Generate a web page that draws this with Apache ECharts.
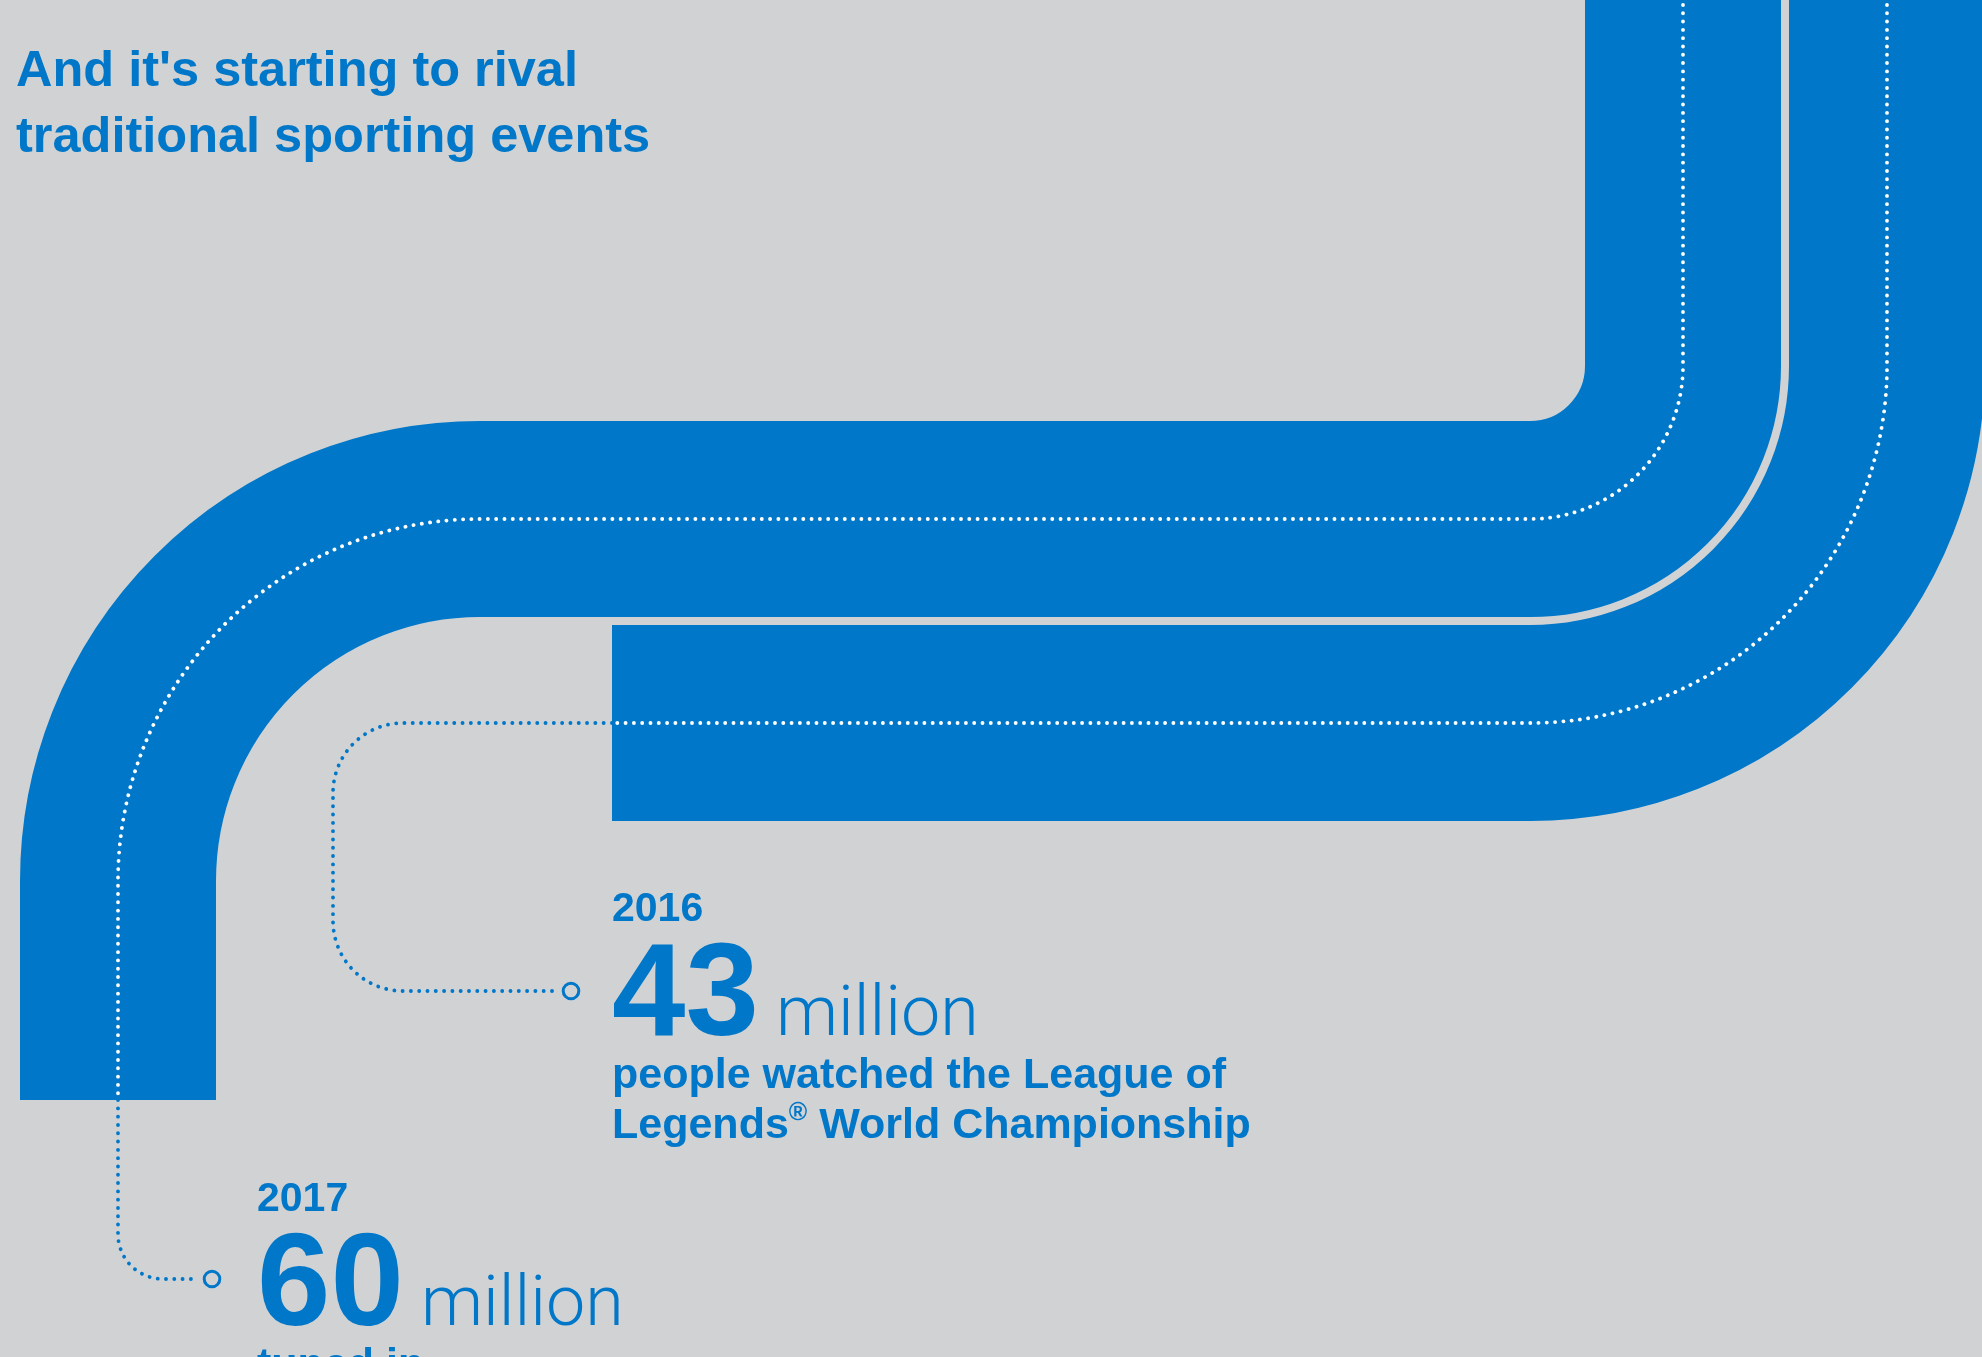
<!DOCTYPE html>
<html>
<head>
<meta charset="utf-8">
<style>
  html, body { margin: 0; padding: 0; background: #D1D2D4; }
  #chart { width: 1982px; height: 1357px; }
</style>
<script src="https://cdn.jsdelivr.net/npm/echarts@6/dist/echarts.min.js"></script>
</head>
<body>
<div id="chart"></div>
<script>
// ---------------- data ----------------
const headline = ["And it's starting to rival", 'traditional sporting events'];
const years = ['2016', '2017'];
const viewersMillions = [43, 60];
const unitLabel = 'million';
const captions = [
  'people watched the League of\nLegends{sup|®} World Championship',
  'tuned in'
];

// ---------------- layout & style (pixel space of the hidden axes) ----------------
const BLUE = '#0077C8';
const BG = '#D1D2D4';
const BAND_W = 196;
const FONT = '"Liberation Sans", Arial, sans-serif';
const LIGHT_FONT = 'Roboto, "Liberation Sans", sans-serif';
const K_SANS = 0.293;   // baseline offset from canvas 'middle' (per px of font size)
const K_LIGHT = 0.27;

const layout = [
  { // 2016 band (outer, right)
    band: [['M', 1887, -20], ['L', 1887, 366], ['A', 357, 1, 1530, 723], ['L', 612, 723]],
    leader: [['M', 612, 723], ['L', 403, 723], ['A', 70, 0, 333, 793], ['L', 333, 921], ['A', 70, 0, 403, 991], ['L', 553, 991]],
    marker: [571, 991],
    anchor: [612, 1037]
  },
  { // 2017 band (S-shaped)
    band: [['M', 1683, -20], ['L', 1683, 366], ['A', 153, 1, 1530, 519], ['L', 480, 519], ['A', 362, 0, 118, 881], ['L', 118, 1100]],
    leader: [['M', 118, 1100], ['L', 118, 1234], ['A', 45, 0, 163, 1279], ['L', 198, 1279]],
    marker: [212, 1279],
    anchor: [257, 1327]
  }
];

function pathStr(api, segs) {
  return segs.map(function (s) {
    if (s[0] === 'A') {
      const p = api.coord([s[3], s[4]]);
      const r = api.size([s[1], s[1]]);
      return 'A ' + r[0] + ' ' + r[1] + ' 0 0 ' + s[2] + ' ' + p[0] + ' ' + p[1];
    }
    const p = api.coord([s[1], s[2]]);
    return s[0] + ' ' + p[0] + ' ' + p[1];
  }).join(' ');
}

const dataIdx = viewersMillions.map(function (v, i) { return [i, v]; });
const DOT = { lineWidth: 3.8, lineCap: 'round', lineDash: [0.1, 8.2] };

const chart = echarts.init(document.getElementById('chart'), null, { renderer: 'canvas' });
chart.setOption({
  backgroundColor: BG,
  animation: false,
  title: {
    text: headline.join('\n'),
    left: 16, top: 39, padding: 0,
    textStyle: { color: BLUE, fontSize: 50.5, fontWeight: 'bold', fontFamily: FONT, lineHeight: 66 }
  },
  grid: { left: 0, right: 0, top: 0, bottom: 0, containLabel: false },
  xAxis: { type: 'value', min: 0, max: 1982, show: false },
  yAxis: { type: 'value', min: 0, max: 1357, inverse: true, show: false },
  series: [
    { // bands
      type: 'custom', clip: false, silent: true, data: dataIdx, z: 1,
      renderItem: function (params, api) {
        const L = layout[params.dataIndex];
        return {
          type: 'path',
          shape: { pathData: pathStr(api, L.band) },
          style: { fill: null, stroke: BLUE, lineWidth: api.size([BAND_W, 0])[0], lineCap: 'butt' }
        };
      }
    },
    { // dotted guide lines
      type: 'custom', clip: false, silent: true, data: dataIdx, z: 2,
      renderItem: function (params, api) {
        const L = layout[params.dataIndex];
        return {
          type: 'group',
          children: [
            {
              type: 'path',
              shape: { pathData: pathStr(api, L.band) },
              style: Object.assign({ fill: null, stroke: '#ffffff' }, DOT)
            },
            {
              type: 'path',
              shape: { pathData: pathStr(api, L.leader) },
              style: Object.assign({ fill: null, stroke: BLUE }, DOT)
            }
          ]
        };
      }
    },
    { // markers and labels
      type: 'custom', clip: false, silent: true, data: dataIdx, z: 3,
      renderItem: function (params, api) {
        const i = params.dataIndex;
        const L = layout[i];
        const m = api.coord(L.marker);
        const a = L.anchor;
        const numSize = 132, yearSize = 41, unitSize = 70, capSize = 43;
        const yearPos = api.coord([a[0], a[1] - 115 - K_SANS * yearSize]);
        const numPos = api.coord([a[0], a[1] - K_SANS * numSize]);
        const unitPos = api.coord([a[0] + 164, a[1] - 1 - K_LIGHT * unitSize]);
        const capPos = api.coord([a[0], a[1] + 14]);
        return {
          type: 'group',
          children: [
            { type: 'circle', shape: { cx: m[0], cy: m[1], r: 7.8 }, style: { fill: BG, stroke: BLUE, lineWidth: 3 } },
            { type: 'text', x: yearPos[0], y: yearPos[1],
              style: { text: years[i], fill: BLUE, fontSize: yearSize, fontWeight: 'bold', fontFamily: FONT, align: 'left', verticalAlign: 'middle' } },
            { type: 'text', x: numPos[0], y: numPos[1],
              style: { text: String(viewersMillions[i]), fill: BLUE, fontSize: numSize, fontWeight: 'bold', fontFamily: FONT, align: 'left', verticalAlign: 'middle' } },
            { type: 'text', x: unitPos[0], y: unitPos[1],
              style: { text: unitLabel, fill: BLUE, fontSize: unitSize, fontWeight: 300, fontFamily: LIGHT_FONT, align: 'left', verticalAlign: 'middle' } },
            { type: 'text', x: capPos[0], y: capPos[1],
              style: {
                text: captions[i], fill: BLUE, fontSize: capSize, fontWeight: 'bold', fontFamily: FONT,
                lineHeight: 50, align: 'left', verticalAlign: 'top',
                rich: { sup: { fontSize: 25, lineHeight: 40, verticalAlign: 'top', fontWeight: 'bold', fontFamily: FONT, fill: BLUE } }
              } }
          ]
        };
      }
    }
  ]
});
</script>
</body>
</html>
